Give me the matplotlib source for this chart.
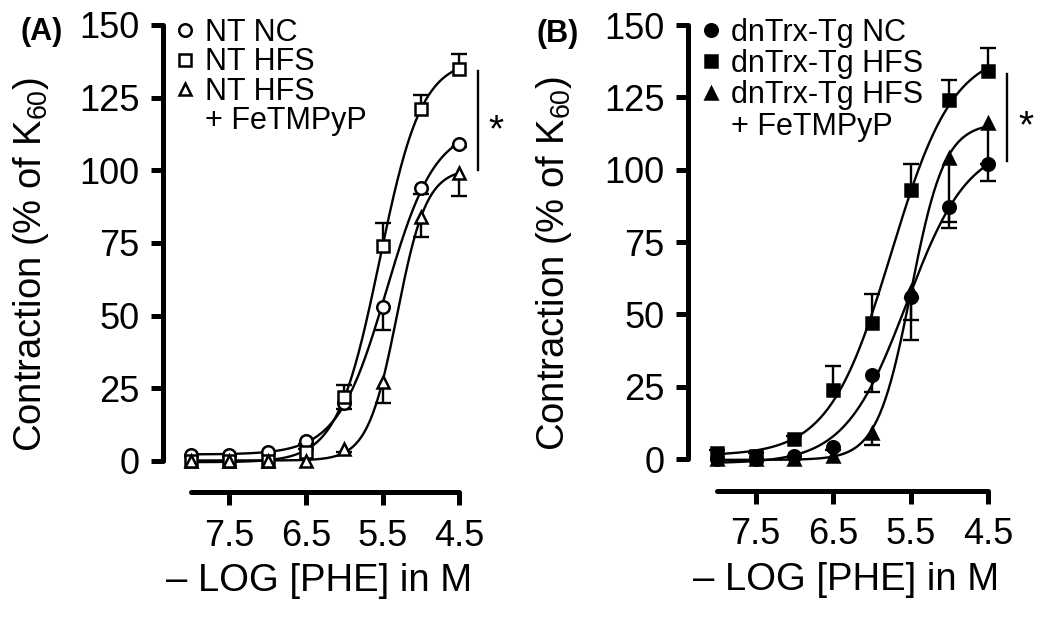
import numpy as np
import matplotlib.pyplot as plt
from matplotlib import transforms

plt.rcParams['font.family'] = ['Liberation Sans', 'DejaVu Sans']
plt.rcParams['mathtext.fontset'] = 'custom'
plt.rcParams['mathtext.rm'] = 'Liberation Sans'
plt.rcParams['mathtext.it'] = 'Liberation Sans:italic'

# -log[PHE] doses
log_phe = [8.0, 7.5, 7.0, 6.5, 6.0, 5.5, 5.0, 4.5]
x_ticks = [7.5, 6.5, 5.5, 4.5]
y_ticks = [0, 25, 50, 75, 100, 125, 150]

# panel A: NT mice (open symbols)
nt_nc = [2, 2, 3, 7, 20, 53, 94, 109]
nt_nc_err = [0, 0, 0, 1, 2, 8, 2, 1]
nt_hfs = [0, 0, 0, 3, 22, 74, 121, 135]
nt_hfs_err = [0, 0, 0, 1, 4, 8, 5, 5]
nt_fe = [0, 0, 0, 0, 4, 27, 84, 99]
nt_fe_err = [0, 0, 0, 0, 1, 7, 7, 8]

# panel B: dnTrx-Tg mice (filled symbols)
tg_nc = [0, 0, 1, 4, 29, 56, 87, 102]
tg_nc_err = [0, 0, 0, 1, 6, 8, 5, 6]
tg_hfs = [2, 1, 7, 24, 47, 93, 124, 134]
tg_hfs_err = [1, 1, 1, 8, 10, 9, 7, 8]
tg_fe = [0, 0, 0, 1, 9, 58, 104, 116]
tg_fe_err = [0, 0, 0, 0, 4, 17, 24, 14]


def hill(p, bottom, top, c, h):
    return bottom + (top - bottom) / (1 + 10 ** (h * (p - c)))


def fit_curve(p, y):
    # grid search over EC50 / slope, bottom & top by linear least squares
    cs = np.arange(4.8, 7.0, 0.005)
    hs = np.arange(0.4, 4.0, 0.01)
    s = 1 / (1 + 10 ** (hs[None, :, None] * (p[None, None, :] - cs[:, None, None])))
    sm = s.mean(axis=2, keepdims=True)
    ym = y.mean()
    b = ((s - sm) * (y - ym)).sum(axis=2) / ((s - sm) ** 2).sum(axis=2)
    a = ym - b * sm[..., 0]
    sse = ((a[..., None] + b[..., None] * s - y) ** 2).sum(axis=2)
    i, j = np.unravel_index(np.argmin(sse), sse.shape)
    return a[i, j], a[i, j] + b[i, j], cs[i], hs[j]


def draw_series(ax, y, err, direction, marker, face, label):
    p = np.array(log_phe)
    y = np.array(y, dtype=float)
    err = np.array(err, dtype=float)
    bottom, top, c, h = fit_curve(p, y)
    xs = np.linspace(8.0, 4.5, 300)
    ax.plot(xs, hill(xs, bottom, top, c, h), color='black', lw=1.7, zorder=2,
            clip_on=False)
    end = y - err if direction == 'down' else y + err
    m = err > 0
    ax.vlines(p[m], y[m], end[m], color='black', lw=1.7, zorder=3)
    ax.plot(p[m], end[m], linestyle='none', marker='_', ms=12, mew=1.7,
            color='black', zorder=3)
    ax.plot(p, y, linestyle='none', marker=marker, ms=9, mfc=face, mec='black',
            mew=1.8, zorder=4, label=label, clip_on=False)


def style_axes(ax, x_left, x_off):
    ax.set_xlim(x_left, 4.3)
    ax.set_ylim(-5, 152)
    for side in ['top', 'right']:
        ax.spines[side].set_visible(False)
    ax.spines['left'].set_bounds(0, 150)
    ax.spines['bottom'].set_bounds(8.0, 4.5)
    ax.spines['bottom'].set_position(('outward', x_off))
    for side in ['left', 'bottom']:
        ax.spines[side].set_linewidth(3.6)
        ax.spines[side].set_capstyle('round')
    ax.set_xticks(x_ticks)
    ax.set_xticklabels([str(t) for t in x_ticks])
    ax.set_yticks(y_ticks)
    ax.tick_params(axis='both', direction='out', length=9, width=3.6, labelsize=26)
    ax.tick_params(axis='y', pad=8)
    ax.tick_params(axis='x', pad=10)
    ax.set_xlabel('\u2013 LOG [PHE] in M', fontsize=27.5, labelpad=7)
    ax.set_ylabel('Contraction (% of K$_{60}$)', fontsize=27.5)
    ax.yaxis.set_label_coords(-0.36, 0.462)


def significance(ax, series):
    lo = min(s[-1] for s in series)
    hi = max(s[-1] for s in series)
    tr = transforms.blended_transform_factory(ax.transAxes, ax.transData)
    ax.plot([1.011, 1.011], [lo + 1, hi - 1], color='black', lw=1.7,
            transform=tr, clip_on=False)
    ax.text(1.07, (lo + hi) / 2 - 3.5, '*', fontsize=28, ha='center', va='center',
            transform=tr)


fig = plt.figure(figsize=(10.5, 6.19), dpi=100)

ax1 = fig.add_axes([163 / 1050, 143.5 / 619, 311.5 / 1050, 456.4 / 619])
draw_series(ax1, nt_nc, nt_nc_err, 'down', 'o', 'white', 'NT NC')
draw_series(ax1, nt_hfs, nt_hfs_err, 'up', 's', 'white', 'NT HFS')
draw_series(ax1, nt_fe, nt_fe_err, 'down', '^', 'white', 'NT HFS')
ax1.plot([], [], ' ', label='+ FeTMPyP')
style_axes(ax1, 8.366, 12)
ax1.legend(loc='upper left', bbox_to_anchor=(0.036, 1.0025), frameon=False,
           fontsize=22, handlelength=0.7, handletextpad=0.3,
           labelspacing=-0.02, borderpad=0, borderaxespad=0)
significance(ax1, [nt_nc, nt_hfs, nt_fe])

ax2 = fig.add_axes([688 / 1050, 145.5 / 619, 315.5 / 1050, 454.2 / 619])
draw_series(ax2, tg_nc, tg_nc_err, 'down', 'o', 'black', 'dnTrx-Tg NC')
draw_series(ax2, tg_hfs, tg_hfs_err, 'up', 's', 'black', 'dnTrx-Tg HFS')
draw_series(ax2, tg_fe, tg_fe_err, 'down', '^', 'black', 'dnTrx-Tg HFS')
ax2.plot([], [], ' ', label='+ FeTMPyP')
style_axes(ax2, 8.375, 12.6)
ax2.legend(loc='upper left', bbox_to_anchor=(0.038, 1.003), frameon=False,
           fontsize=22, handlelength=0.7, handletextpad=0.3,
           labelspacing=0.04, borderpad=0, borderaxespad=0)
significance(ax2, [tg_nc, tg_hfs, tg_fe])

fig.text(20 / 1050, 0.948, '(A)', fontsize=22, fontweight='bold', va='center')
fig.text(537 / 1050, 0.945, '(B)', fontsize=22, fontweight='bold', va='center')

fig.savefig('out.png', dpi=100)
